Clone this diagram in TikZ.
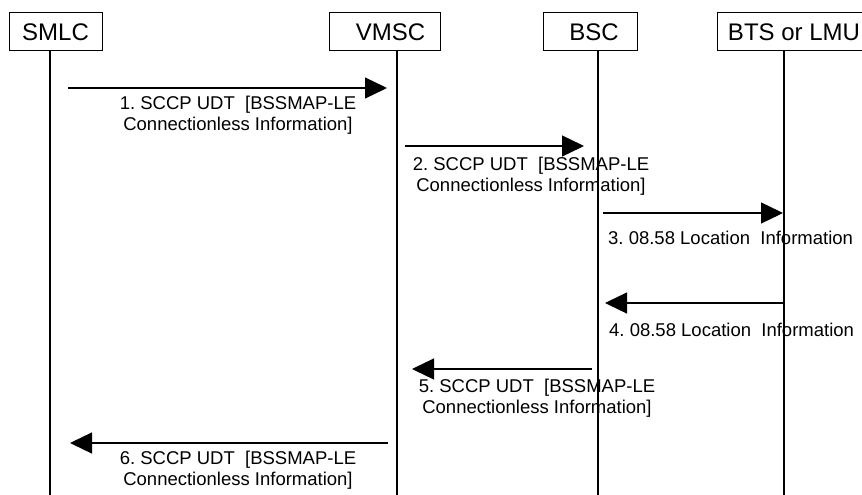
\documentclass[tikz,border=0pt]{standalone}
\usepackage{fontspec}
\setmainfont{Liberation Sans}
\usetikzlibrary{arrows.meta}
\frenchspacing
\begin{document}
\frenchspacing
\begin{tikzpicture}[x=1pt,y=-1pt,
  ent/.style={draw,line width=1pt,minimum height=38pt,inner sep=0pt,font=\fontsize{24}{28}\selectfont},
  life/.style={line width=1.2pt},
  msg/.style={line width=1.3pt,-{Triangle[length=22pt,width=21pt]}},
  lbl/.style={font=\fontsize{18.5}{20.5}\selectfont,align=center,inner sep=0pt}]
\path[use as bounding box, clip] (0,0) rectangle (862,495);
% entities
\node[ent,minimum width=93pt] (smlc) at (55.5,32) {SMLC};
\node[ent,minimum width=111pt] (vmsc) at (384.5,32) {\hspace*{12pt}VMSC};
\node[ent,minimum width=94pt] (bsc) at (590,32) {\hspace*{8pt}BSC};
\node[ent,minimum width=153pt,anchor=west] (bts) at (717,32) {BTS or LMU};
% lifelines
\coordinate (sT) at (50,51);  \coordinate (sB) at (50,496);
\coordinate (vT) at (397,51); \coordinate (vB) at (397,496);
\coordinate (bT) at (598,51); \coordinate (bB) at (598,496);
\coordinate (tT) at (784,51); \coordinate (tB) at (784,496);
\draw[life] (sT) -- (sB);
\draw[life] (vT) -- (vB);
\draw[life] (bT) -- (bB);
\draw[life] (tT) -- (tB);
% message end points
\coordinate (m1a) at (68,88);   \coordinate (m1b) at (387,88);
\coordinate (m2a) at (405,146); \coordinate (m2b) at (584,146);
\coordinate (m3a) at (603,213); \coordinate (m3b) at (783,213);
\coordinate (m4a) at (783,303); \coordinate (m4b) at (605,303);
\coordinate (m5a) at (592,369); \coordinate (m5b) at (412,369);
\coordinate (m6a) at (388,443); \coordinate (m6b) at (70,443);
\draw[msg] (m1a) -- (m1b);
\draw[msg] (m2a) -- (m2b);
\draw[msg] (m3a) -- (m3b);
\draw[msg] (m4a) -- (m4b);
\draw[msg] (m5a) -- (m5b);
\draw[msg] (m6a) -- (m6b);
% labels
\node[lbl] (l1) at (238,115) {1. SCCP UDT\ \ [BSSMAP-LE\\Connectionless Information]};
\node[lbl] (l2) at (531,176) {2. SCCP UDT\ \ [BSSMAP-LE\\Connectionless Information]};
\node[lbl,anchor=west] (l3) at (608,238) {3. 08.58 Location\ \ Information};
\node[lbl,anchor=west] (l4) at (609,330) {4. 08.58 Location\ \ Information};
\node[lbl] (l5) at (537,398) {5. SCCP UDT\ \ [BSSMAP-LE\\Connectionless Information]};
\node[lbl] (l6) at (238,470) {6. SCCP UDT\ \ [BSSMAP-LE\\Connectionless Information]};
\end{tikzpicture}
\end{document}
